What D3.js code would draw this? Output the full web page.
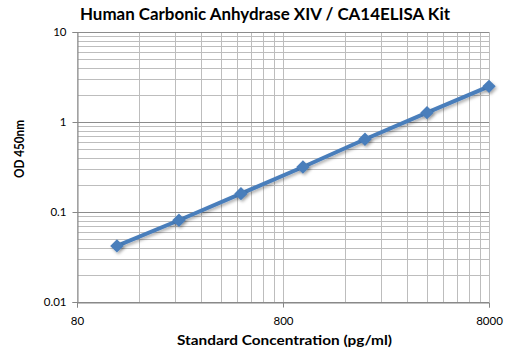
<!DOCTYPE html>
<html><head><meta charset="utf-8">
<script src="https://cdn.jsdelivr.net/npm/d3@7"></script>
<style>body{margin:0;background:#fff}svg{display:block}</style>
</head><body>
<svg id="c" width="512" height="359"></svg>
<script>
const concentrations = [125, 250, 500, 1000, 2000, 4000, 8000];
const odValues = [0.042, 0.081, 0.16, 0.316, 0.643, 1.27, 2.49];
const xTicks = [80, 800, 8000];
const yTicks = [0.01, 0.1, 1, 10];
const titleText = "Human Carbonic Anhydrase XIV / CA14ELISA Kit";
const xTitle = "Standard Concentration (pg/ml)";
const yTitle = "OD 450nm";

const svg = d3.select("#c");
const L = 77, R = 489, T = 32, B = 302;
const font = "Lato, 'Open Sans', sans-serif";

const x = d3.scaleLog().domain([80, 8000]).range([L, R]);
const y = d3.scaleLog().domain([0.01, 10]).range([B, T]);

const defs = svg.append("defs");
const f = defs.append("filter").attr("id","sh").attr("x","-20%").attr("y","-20%").attr("width","140%").attr("height","160%");
f.append("feDropShadow").attr("dx",1.5).attr("dy",2).attr("stdDeviation",1.5).attr("flood-color","#000").attr("flood-opacity",0.3);

// minor grid
const xMinor = [];
[80, 800].forEach(b => { for (let k = 2; k <= 9; k++) xMinor.push(b * k); });
const yMinor = [];
[0.01, 0.1, 1].forEach(b => { for (let k = 2; k <= 9; k++) yMinor.push(b * k); });

const g = svg.append("g");
g.selectAll(".vx").data(xMinor.concat(xTicks)).enter().append("line")
  .attr("x1", d => Math.round(x(d)) + 0.5).attr("x2", d => Math.round(x(d)) + 0.5)
  .attr("y1", T).attr("y2", B).attr("stroke", "#bdbdbd").attr("stroke-width", 1);
g.selectAll(".hy").data(yMinor).enter().append("line")
  .attr("y1", d => Math.round(y(d)) + 0.5).attr("y2", d => Math.round(y(d)) + 0.5)
  .attr("x1", L).attr("x2", R).attr("stroke", "#bdbdbd").attr("stroke-width", 1);
g.selectAll(".hM").data(yTicks).enter().append("line")
  .attr("y1", d => Math.round(y(d)) + 0.5).attr("y2", d => Math.round(y(d)) + 0.5)
  .attr("x1", L).attr("x2", R).attr("stroke", "#8c8c8c").attr("stroke-width", 1);

// axes
const fmt = d => d3.format("~g")(d);
const xAxis = svg.append("g").attr("transform", `translate(0,${B + 0.5})`)
  .call(d3.axisBottom(x).tickValues(xTicks).tickFormat(fmt).tickSize(5).tickPadding(9));
const yAxis = svg.append("g").attr("transform", `translate(${L + 0.5},0)`)
  .call(d3.axisLeft(y).tickValues(yTicks).tickFormat(fmt).tickSize(5).tickPadding(6));
[xAxis, yAxis].forEach(a => {
  a.select(".domain").attr("stroke", "#868686");
  a.selectAll(".tick line").attr("stroke", "#868686");
  a.selectAll("text").attr("font-family", font).attr("font-size", 11.5).attr("fill", "#000");
});

// line
const line = d3.line().x((d, i) => x(concentrations[i])).y(d => y(d));
svg.append("path").datum(odValues).attr("d", line).attr("fill", "none")
  .attr("stroke", "#4a7ebb").attr("stroke-width", 4).attr("filter", "url(#sh)");
svg.selectAll(".pt").data(odValues).enter().append("path")
  .attr("d", d3.symbol().type(d3.symbolDiamond2).size(115))
  .attr("transform", (d, i) => `translate(${x(concentrations[i])},${y(d)})`)
  .attr("fill", "#4a7ebb").attr("filter", "url(#sh)");

// titles
svg.append("text").attr("x", 265).attr("y", 20).attr("text-anchor", "middle")
  .attr("font-family", font).attr("font-weight", "bold").attr("font-size", 17)
  .attr("textLength", 370).attr("lengthAdjust", "spacingAndGlyphs").text(titleText);
svg.append("text").attr("x", 284.5).attr("y", 345).attr("text-anchor", "middle")
  .attr("font-family", font).attr("font-weight", "bold").attr("font-size", 13.5)
  .attr("textLength", 215).attr("lengthAdjust", "spacingAndGlyphs").text(xTitle);
svg.append("text").attr("transform", "translate(24,149) rotate(-90)").attr("text-anchor", "middle")
  .attr("font-family", font).attr("font-weight", "bold").attr("font-size", 13.5)
  .attr("textLength", 58).attr("lengthAdjust", "spacingAndGlyphs").text(yTitle);
</script>
</body></html>
